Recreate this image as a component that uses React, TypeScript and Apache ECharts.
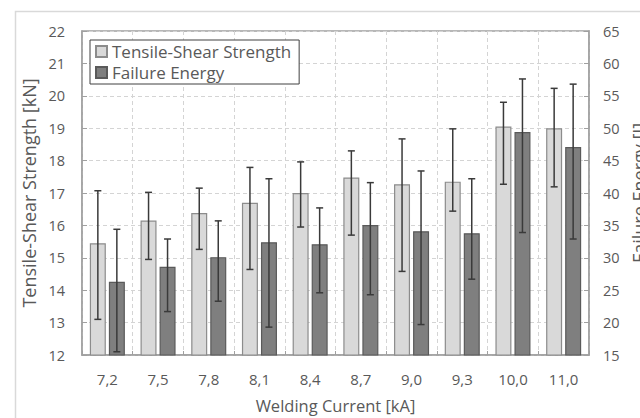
import React, { useEffect, useRef } from "react";
import * as echarts from "echarts";

const categories = ["7,2", "7,5", "7,8", "8,1", "8,4", "8,7", "9,0", "9,3", "10,0", "11,0"];
const strength = [15.45, 16.15, 16.38, 16.7, 17.0, 17.48, 17.27, 17.35, 19.05, 19.0];
const strengthHigh = [17.07, 17.02, 17.15, 17.79, 17.96, 18.3, 18.67, 18.98, 19.8, 20.23];
const strengthLow = [13.1, 14.95, 15.26, 14.64, 15.95, 15.7, 14.58, 16.44, 17.27, 17.19];
const energy = [26.3, 28.6, 30.1, 32.4, 32.1, 35.06, 34.1, 33.8, 49.4, 47.1];
const energyHigh = [34.4, 32.9, 35.7, 42.2, 37.7, 41.6, 43.4, 42.2, 57.6, 56.8];
const energyLow = [15.5, 21.7, 23.3, 19.3, 24.6, 24.3, 19.7, 26.7, 33.9, 32.9];

const FONT = "'Open Sans', sans-serif";
const TXT = "#595959";
const BAR_W = 16;
const OFFSET = 9.5;

function errorRenderer(offset: number) {
  return (params: any, api: any) => {
    const i = api.value(0);
    const lo = api.coord([i, api.value(1)]);
    const hi = api.coord([i, api.value(2)]);
    const x = lo[0] + offset;
    const cap = 3.5;
    const style = { stroke: "#3a3a3a", lineWidth: 1.5 };
    return {
      type: "group",
      children: [
        { type: "line", shape: { x1: x, y1: hi[1], x2: x, y2: lo[1] }, style },
        { type: "line", shape: { x1: x - cap, y1: hi[1], x2: x + cap, y2: hi[1] }, style },
        { type: "line", shape: { x1: x - cap, y1: lo[1], x2: x + cap, y2: lo[1] }, style },
      ],
    };
  };
}

export default function App() {
  const ref = useRef<HTMLDivElement>(null);
  useEffect(() => {
    if (!ref.current) return;
    const chart = echarts.init(ref.current, undefined, { renderer: "svg" });
    const axisLine = { show: true, lineStyle: { color: "#a0a0a0", width: 1.5 } };
    const splitLine = { show: true, lineStyle: { color: "#d4d4d4", type: [4, 3] as any, width: 1 } };
    chart.setOption({
      animation: false,
      backgroundColor: "#ffffff",
      textStyle: { fontFamily: FONT },
      graphic: [
        {
          type: "rect",
          left: 13,
          top: 9,
          shape: { width: 700, height: 500 },
          style: { fill: "none", stroke: "#d9d9d9", lineWidth: 1.5 },
          silent: true,
          z: -10,
        },
      ],
      grid: {
        left: 82,
        right: 51,
        top: 31,
        bottom: 63,
        show: true,
        borderColor: "#a0a0a0",
        borderWidth: 1.5,
        containLabel: false,
        outerBoundsMode: "none",
      },
      legend: {
        orient: "vertical",
        left: 90,
        top: 40,
        padding: [3, 8, 3, 5],
        itemGap: 4,
        itemWidth: 11,
        itemHeight: 11,
        itemTextGap: 3,
        backgroundColor: "#ffffff",
        borderColor: "#404040",
        borderWidth: 1,
        textStyle: { fontFamily: FONT, fontSize: 17, color: TXT },
        data: [
          { name: "Tensile-Shear Strength", icon: "rect" },
          { name: "Failure Energy", icon: "rect" },
        ],
      },
      xAxis: {
        type: "category",
        data: categories,
        name: "Welding Current [kA]",
        nameLocation: "middle",
        nameGap: 42,
        nameTextStyle: { fontFamily: FONT, fontSize: 16.5, color: TXT },
        axisLine,
        axisTick: { show: true, inside: true, length: 4, lineStyle: { color: "#a0a0a0" } },
        axisLabel: { fontFamily: FONT, fontSize: 15, color: TXT, margin: 16, interval: 0 },
        splitLine: { ...splitLine, interval: 0 },
      },
      yAxis: [
        {
          type: "value",
          min: 12,
          max: 22,
          interval: 1,
          name: "Tensile-Shear Strength [kN]",
          nameLocation: "middle",
          nameRotate: 90,
          nameGap: 42,
          nameTextStyle: { fontFamily: FONT, fontSize: 18, color: TXT },
          axisLine,
          axisTick: { show: true, inside: true, length: 5, lineStyle: { color: "#a0a0a0" } },
          axisLabel: { fontFamily: FONT, fontSize: 14.5, color: TXT, margin: 17 },
          splitLine,
        },
        {
          type: "value",
          min: 15,
          max: 65,
          interval: 5,
          position: "right",
          name: "Failure Energy [J]",
          nameLocation: "middle",
          nameRotate: 90,
          nameGap: 40,
          nameTextStyle: { fontFamily: FONT, fontSize: 18, color: TXT },
          axisLine,
          axisTick: { show: true, inside: true, length: 5, lineStyle: { color: "#a0a0a0" } },
          axisLabel: { fontFamily: FONT, fontSize: 14.5, color: TXT, margin: 14 },
          splitLine: { show: false },
        },
      ],
      series: [
        {
          name: "Tensile-Shear Strength",
          type: "bar",
          yAxisIndex: 0,
          data: strength,
          barWidth: BAR_W,
          barGap: "19%",
          itemStyle: { color: "#d9d9d9", borderColor: "#8c8c8c", borderWidth: 1.2 },
        },
        {
          name: "Failure Energy",
          type: "bar",
          yAxisIndex: 1,
          data: energy,
          barWidth: BAR_W,
          barGap: "19%",
          itemStyle: { color: "#7f7f7f", borderColor: "#5a5a5a", borderWidth: 1.2 },
        },
        {
          type: "custom",
          yAxisIndex: 0,
          renderItem: errorRenderer(-OFFSET),
          data: categories.map((_, i) => [i, strengthLow[i], strengthHigh[i]]),
          encode: { x: 0, y: [1, 2] },
          z: 5,
          silent: true,
        },
        {
          type: "custom",
          yAxisIndex: 1,
          renderItem: errorRenderer(OFFSET),
          data: categories.map((_, i) => [i, energyLow[i], energyHigh[i]]),
          encode: { x: 0, y: [1, 2] },
          z: 5,
          silent: true,
        },
      ],
    });
    return () => chart.dispose();
  }, []);
  return (
    <div
      ref={ref}
      style={{ position: "fixed", left: 0, top: 0, width: 640, height: 418, background: "#fff" }}
    />
  );
}
